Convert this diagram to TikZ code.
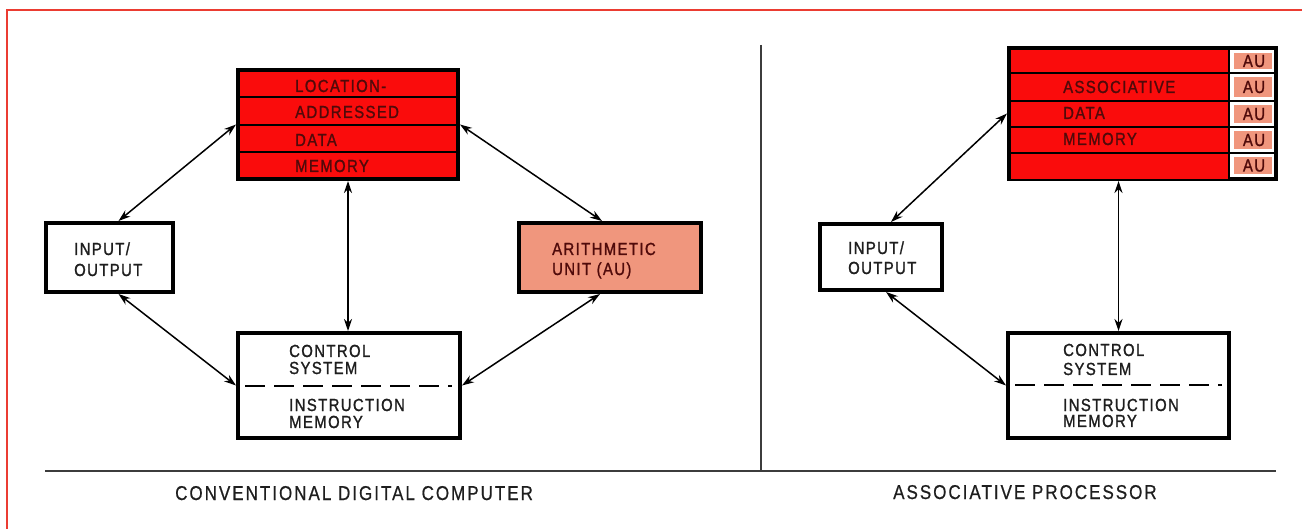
\documentclass[tikz,border=0pt]{standalone}
\usepackage{fontspec}
\newfontfamily\lett[FakeStretch=0.85,LetterSpace=8,FakeBold=1.2]{Liberation Sans}
\newfontfamily\capfont[FakeStretch=0.85,LetterSpace=10,FakeBold=0.6]{Liberation Sans}
\usetikzlibrary{arrows.meta,calc}
\definecolor{framered}{RGB}{235,60,50}
\definecolor{memred}{RGB}{250,12,12}
\definecolor{salmon}{RGB}{240,150,125}
\definecolor{dark}{RGB}{30,30,30}
\definecolor{redtxt}{RGB}{80,10,10}
\definecolor{rule}{RGB}{60,60,60}
\begin{document}
\begin{tikzpicture}[x=1pt,y=-1pt,
 box/.style={draw=black,line width=4pt,inner sep=0pt,anchor=north west},
 txt/.style={inner sep=0pt,anchor=base west,font=\lett\fontsize{17.5}{18}\selectfont,text=dark},
 rtxt/.style={txt,text=redtxt},
 autxt/.style={txt,anchor=base,text=redtxt},
 lab/.style={inner sep=0pt,anchor=base west,font=\capfont\fontsize{20}{22}\selectfont,text=dark},
 link/.style={line width=1.5pt,{Stealth[length=12pt,width=8pt]}-{Stealth[length=12pt,width=8pt]}},
 rowsep/.style={line width=1.8pt},
 dsep/.style={line width=2pt,dash pattern=on 20pt off 9pt}]

\useasboundingbox (0,0) rectangle (1302,529);
\fill[white] (0,0) rectangle (1302,529);
\draw[framered,line width=2.5pt] (7,529) -- (7,10) -- (1302,10);

% rules
\coordinate (bl) at (45,471);
\coordinate (br) at (1276,471);
\coordinate (vt) at (761,45);
\draw[rule,line width=1.5pt] (bl) -- (br);
\draw[rule,line width=1.5pt] (vt) -- (vt |- bl);

% ---------- left diagram ----------
\node[box,fill=memred,minimum width=220pt,minimum height=109pt] (ladm) at (236,68) {};
\foreach \yy in {97,125,152} \draw[rowsep] (ladm.west |- 0,\yy) -- (ladm.east |- 0,\yy);
\node[rtxt] (l1) at (295,92) {LOCATION-};
\node[rtxt] (l2) at (295,118) {ADDRESSED};
\node[rtxt] (l3) at (295,146) {DATA};
\node[rtxt] (l4) at (295,172) {MEMORY};

\node[box,fill=white,minimum width=127pt,minimum height=69pt] (io1) at (44,221) {};
\node[txt] (io1a) at (74,255) {INPUT/};
\node[txt] (io1b) at (74,276) {OUTPUT};

\node[box,fill=salmon,minimum width=182pt,minimum height=69pt] (au) at (517,221) {};
\node[txt,text=redtxt] (aua) at (552,255) {ARITHMETIC};
\node[txt,text=redtxt] (aub) at (552,275) {UNIT (AU)};

\node[box,fill=white,minimum width=222pt,minimum height=105pt] (ctl1) at (236,331) {};
\node[txt] (c1a) at (289,357) {CONTROL};
\node[txt] (c1b) at (289,374) {SYSTEM};
\node[txt] (c1c) at (289,411) {INSTRUCTION};
\node[txt] (c1d) at (289,428) {MEMORY};
\coordinate (d1a) at (245,386);
\coordinate (d1b) at (452,386);
\draw[dsep] (d1a) -- (d1b);

\draw[link] (ladm.west) -- ($(io1.north)+(9,0)$);
\draw[link] ($(io1.south)+(9,0)$) -- (ctl1.west);
\draw[link] (ladm.south) -- (ladm.south |- ctl1.north);
\draw[link] (ladm.east) -- ($(au.north)+(-8,0)$);
\draw[link] ($(au.south)+(-10,0)$) -- (ctl1.east);

% ---------- right diagram ----------
\node[box,fill=white,minimum width=267pt,minimum height=131pt] (adm) at (1007,46) {};
\coordinate (redsw) at (1229,179);
\fill[memred] ($(adm.north west)+(4,4)$) rectangle (redsw);
\foreach \t/\b [count=\i] in {49/73,73/101,101/127,127/153,153/178} {
  \fill[salmon] (1234,{\t+4}) rectangle (1272,{\b-4});
  \node[autxt] (auc\i) at (1254,{(\t+\b)/2+6}) {AU};
}
\foreach \yy in {73,101,127,153} \draw[rowsep] (adm.west |- 0,\yy) -- (adm.east |- 0,\yy);
\draw[rowsep] (redsw |- adm.north) -- (redsw |- adm.south);
\node[rtxt] (r1) at (1063,93) {ASSOCIATIVE};
\node[rtxt] (r2) at (1063,119) {DATA};
\node[rtxt] (r3) at (1063,145) {MEMORY};

\node[box,fill=white,minimum width=122pt,minimum height=66pt] (io2) at (818,222) {};
\node[txt] (io2a) at (848,254) {INPUT/};
\node[txt] (io2b) at (848,274) {OUTPUT};

\node[box,fill=white,minimum width=221pt,minimum height=105pt] (ctl2) at (1006,331) {};
\node[txt] (c2a) at (1063,356) {CONTROL};
\node[txt] (c2b) at (1063,375) {SYSTEM};
\node[txt] (c2c) at (1063,411) {INSTRUCTION};
\node[txt] (c2d) at (1063,427) {MEMORY};
\coordinate (d2a) at (1015,385);
\coordinate (d2b) at (1222,385);
\draw[dsep] (d2a) -- (d2b);

\draw[link] (adm.west) -- ($(io2.north)+(10,0)$);
\draw[link] ($(io2.south)+(5,0)$) -- (ctl2.west);
\draw[link] (ctl2.north |- adm.south) -- (ctl2.north);

% captions
\node[lab] (cap1) at (175,500) {CONVENTIONAL DIGITAL COMPUTER};
\node[lab] (cap2) at (893,499) {ASSOCIATIVE PROCESSOR};
\end{tikzpicture}
\end{document}
